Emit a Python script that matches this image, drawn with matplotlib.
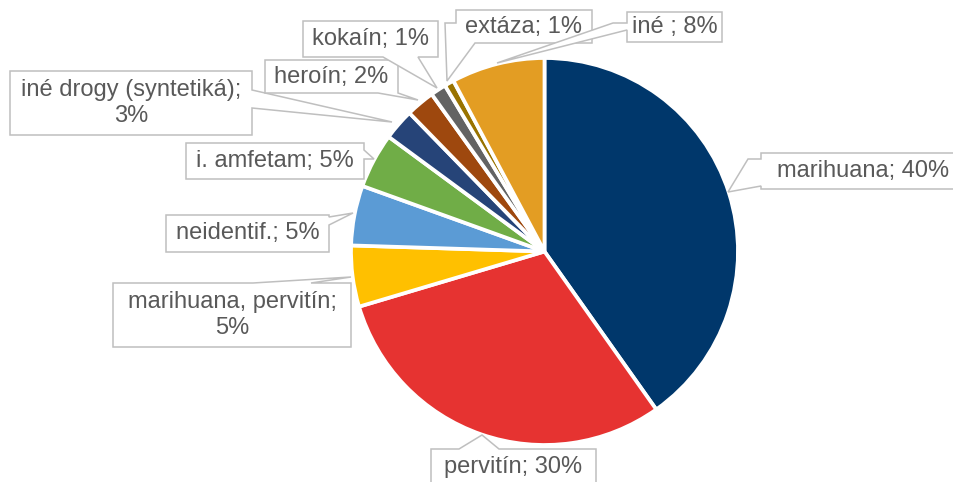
import matplotlib.pyplot as plt
from matplotlib.path import Path
from matplotlib.patches import PathPatch

# Data
names = ['marihuana', 'pervitín', 'marihuana, pervitín', 'neidentif.', 'i. amfetam',
         'iné drogy (syntetiká)', 'heroín', 'kokaín', 'extáza', 'iné ']
shares = [40.2, 30.2, 5.1, 5.0, 4.6, 2.6, 2.4, 1.3, 0.8, 7.8]
colors = ['#00376B', '#E63331', '#FFC000', '#5B9BD5', '#70AD47',
          '#264478', '#9E480E', '#636363', '#997300', '#E39D23']
two_line = ['marihuana, pervitín', 'iné drogy (syntetiká)']

# Callout layout in pixel coords: box (x0, y0, x1, y1), tip, side, base span, extra corner
callouts = [
    ((761, 153, 966, 189), (728, 192), 'L', (159, 186), (748, 159)),
    ((431, 449, 596, 486), (482, 435), 'T', (459, 499), None),
    ((113, 283, 351, 347), (351, 277), 'T', (253, 311), None),
    ((166, 215, 329, 252), (353, 213), 'R', (217, 225), None),
    ((186, 143, 364, 179), (374, 159), 'R', (150, 159), None),
    ((10, 71, 252, 135), (392, 122), 'R', (90, 108), None),
    ((265, 60, 398, 93), (418, 100), 'B', (378, 398), None),
    ((303, 21, 438, 57), (437, 88), 'B', (383, 418), None),
    ((456, 10, 592, 43), (447, 81), 'BL', (23, 475), (445, 23)),
    ((627, 12, 722, 42), (497, 63), 'L', (23, 30), (613, 23)),
]

W, H = 954, 482
fig = plt.figure(figsize=(W / 100, H / 100), dpi=100)
ax = fig.add_axes([0, 0, 1, 1])

ax.pie(shares, colors=colors, startangle=-90, counterclock=True,
       center=(544.5, 251.5), radius=193.5,
       wedgeprops=dict(edgecolor='white', linewidth=2.7))
ax.set_xlim(0, W)
ax.set_ylim(H, 0)
ax.set_aspect('equal')
ax.axis('off')


def callout_path(box, tip, side, base, via):
    x0, y0, x1, y1 = box
    a, b = base
    if side == 'T':
        pts = [(x0, y0), (a, y0), tip, (b, y0), (x1, y0), (x1, y1), (x0, y1)]
    elif side == 'R':
        pts = [(x0, y0), (x1, y0), (x1, a), tip, (x1, b), (x1, y1), (x0, y1)]
    elif side == 'B':
        pts = [(x0, y0), (x1, y0), (x1, y1), (b, y1), tip, (a, y1), (x0, y1)]
    elif side == 'BL':
        # wedge from bottom edge to left edge, bending at 'via'
        pts = [(x0, y0), (x1, y0), (x1, y1), (b, y1), tip, via, (x0, a)]
    else:
        pts = [(x0, y0), (x1, y0), (x1, y1), (x0, y1), (x0, b), tip]
        if via is not None:
            pts.append(via)
        pts.append((x0, a))
    pts.append(pts[0])
    codes = [Path.MOVETO] + [Path.LINETO] * (len(pts) - 2) + [Path.CLOSEPOLY]
    return Path(pts, codes)


for name, val, (box, tip, side, base, via) in zip(names, shares, callouts):
    sep = ';\n' if name in two_line else '; '
    label = f'{name}{sep}{val:.0f}%'
    ax.add_patch(PathPatch(callout_path(box, tip, side, base, via), facecolor='white',
                           edgecolor='#BFBFBF', linewidth=1.1, zorder=3))
    cx = (box[0] + min(box[2], 950 + 15)) / 2
    cy = (box[1] + box[3]) / 2
    ax.text(cx, cy, label, ha='center', va='center', fontsize=17,
            family='Liberation Sans', color='#595959', linespacing=1.2, zorder=4)

plt.savefig('out.png', dpi=100)
